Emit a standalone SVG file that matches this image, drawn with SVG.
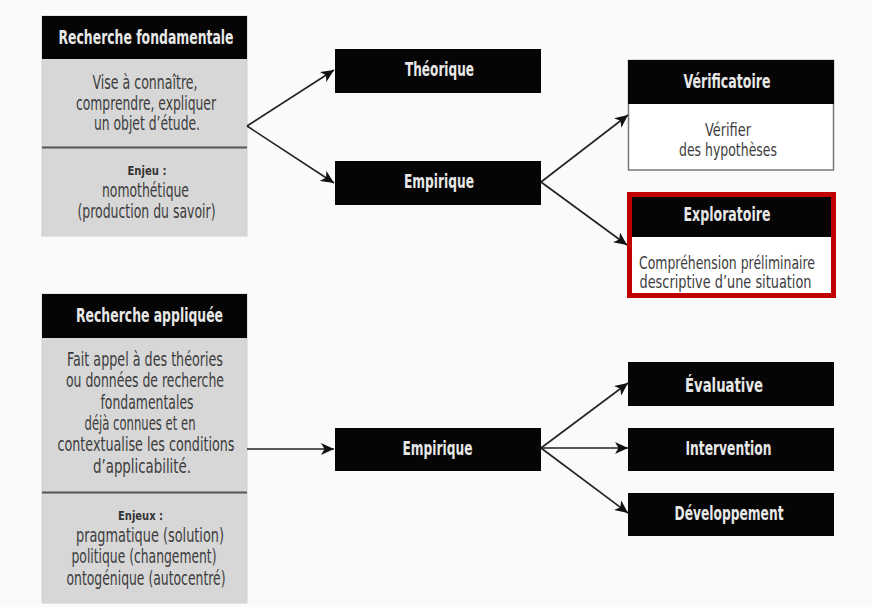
<svg xmlns="http://www.w3.org/2000/svg" width="872" height="607" viewBox="0 0 872 607">
<style>
  .bg{fill:#fafafa}
  .panel{fill:#d7d7d7;stroke:#cfcfcf;stroke-width:1}
  .hdr{fill:#050505}
  .div{stroke:#555;stroke-width:2}
  .wbox{fill:#ffffff;stroke:#7a7a7a;stroke-width:1.5}
  .red{fill:#ffffff;stroke:#c00000;stroke-width:5}
  text{font-family:"DejaVu Sans Condensed","DejaVu Sans","Liberation Sans",sans-serif;text-anchor:middle}
  .ht{font-size:20px;font-weight:bold;fill:#e8e8e8}
  .bt{font-size:19px;fill:#3c3c3c}
  .bs{font-size:17px;fill:#3c3c3c}
  .st{font-size:13px;font-weight:bold;fill:#333}
  .conn{fill:none;stroke:#222;stroke-width:1.6}
</style>
<defs>
  <marker id="arr" markerUnits="userSpaceOnUse" markerWidth="14" markerHeight="12" refX="13" refY="6" orient="auto">
    <path d="M0,0 L13,6 L0,12 L3.5,6 z" fill="#111"/>
  </marker>
</defs>
<rect class="bg" x="0" y="0" width="872" height="607"/>

<g id="fondamentale">
  <rect class="panel" x="42" y="16" width="205" height="220"/>
  <rect class="hdr" x="42" y="16" width="205" height="43"/>
  <text class="ht" x="146" y="44" textLength="175" lengthAdjust="spacingAndGlyphs">Recherche fondamentale</text>
  <text class="bt" x="145" y="89" textLength="105" lengthAdjust="spacingAndGlyphs">Vise à connaître,</text>
  <text class="bt" x="146" y="109.5" textLength="140" lengthAdjust="spacingAndGlyphs">comprendre, expliquer</text>
  <text class="bt" x="147" y="130" textLength="106" lengthAdjust="spacingAndGlyphs">un objet d’étude.</text>
  <line class="div" x1="42" y1="147.5" x2="247" y2="147.5"/>
  <text class="st" x="147" y="174.5" textLength="39" lengthAdjust="spacingAndGlyphs">Enjeu :</text>
  <text class="bt" x="145.5" y="196.5" textLength="87" lengthAdjust="spacingAndGlyphs">nomothétique</text>
  <text class="bt" x="146.5" y="218" textLength="138" lengthAdjust="spacingAndGlyphs">(production du savoir)</text>
</g>

<g id="appliquee">
  <rect class="panel" x="42" y="294" width="205" height="309"/>
  <rect class="hdr" x="42" y="294" width="205" height="44"/>
  <text class="ht" x="149.5" y="322" textLength="147" lengthAdjust="spacingAndGlyphs">Recherche appliquée</text>
  <text class="bt" x="145" y="366" textLength="156" lengthAdjust="spacingAndGlyphs">Fait appel à des théories</text>
  <text class="bt" x="145" y="387" textLength="158" lengthAdjust="spacingAndGlyphs">ou données de recherche</text>
  <text class="bt" x="147" y="408.5" textLength="93" lengthAdjust="spacingAndGlyphs">fondamentales</text>
  <text class="bt" x="140" y="429.5" textLength="111" lengthAdjust="spacingAndGlyphs">déjà connues et en</text>
  <text class="bt" x="146" y="451" textLength="177" lengthAdjust="spacingAndGlyphs">contextualise les conditions</text>
  <text class="bt" x="142" y="472.5" textLength="98" lengthAdjust="spacingAndGlyphs">d’applicabilité.</text>
  <line class="div" x1="42" y1="492.5" x2="247" y2="492.5"/>
  <text class="st" x="140.5" y="520" textLength="45" lengthAdjust="spacingAndGlyphs">Enjeux :</text>
  <text class="bt" x="150" y="541.5" textLength="148" lengthAdjust="spacingAndGlyphs">pragmatique (solution)</text>
  <text class="bt" x="144" y="563" textLength="145" lengthAdjust="spacingAndGlyphs">politique (changement)</text>
  <text class="bt" x="146" y="585" textLength="159" lengthAdjust="spacingAndGlyphs">ontogénique (autocentré)</text>
</g>

<g id="theorique">
  <rect class="hdr" x="335" y="49" width="206" height="44"/>
  <text class="ht" x="439.5" y="76" textLength="69" lengthAdjust="spacingAndGlyphs">Théorique</text>
</g>

<g id="empirique1">
  <rect class="hdr" x="335" y="161" width="206" height="44"/>
  <text class="ht" x="439" y="187.5" textLength="70" lengthAdjust="spacingAndGlyphs">Empirique</text>
</g>

<g id="verificatoire">
  <rect class="wbox" x="628.5" y="60.5" width="205" height="109.5"/>
  <rect class="hdr" x="628" y="60" width="206" height="44"/>
  <text class="ht" x="727" y="87.5" textLength="87" lengthAdjust="spacingAndGlyphs">Vérificatoire</text>
  <text class="bs" x="728" y="136" textLength="46" lengthAdjust="spacingAndGlyphs">Vérifier</text>
  <text class="bs" x="728" y="155.5" textLength="98" lengthAdjust="spacingAndGlyphs">des hypothèses</text>
</g>

<g id="exploratoire">
  <rect class="red" x="629.5" y="194.5" width="204" height="101"/>
  <rect class="hdr" x="632" y="197" width="199" height="40"/>
  <text class="ht" x="727" y="221" textLength="87" lengthAdjust="spacingAndGlyphs">Exploratoire</text>
  <text class="bs" x="727" y="268.5" textLength="176" lengthAdjust="spacingAndGlyphs">Compréhension préliminaire</text>
  <text class="bs" x="725.5" y="287.5" textLength="172" lengthAdjust="spacingAndGlyphs">descriptive d’une situation</text>
</g>

<g id="empirique2">
  <rect class="hdr" x="335" y="428" width="206" height="43"/>
  <text class="ht" x="437.5" y="454.5" textLength="70" lengthAdjust="spacingAndGlyphs">Empirique</text>
</g>

<g id="evaluative">
  <rect class="hdr" x="628" y="362" width="206" height="44"/>
  <text class="ht" x="724" y="392" textLength="78" lengthAdjust="spacingAndGlyphs">Évaluative</text>
</g>

<g id="intervention">
  <rect class="hdr" x="628" y="428" width="206" height="43"/>
  <text class="ht" x="728.5" y="455" textLength="86" lengthAdjust="spacingAndGlyphs">Intervention</text>
</g>

<g id="developpement">
  <rect class="hdr" x="628" y="493" width="206" height="43"/>
  <text class="ht" x="729" y="519.5" textLength="109" lengthAdjust="spacingAndGlyphs">Développement</text>
</g>

<g id="connectors">
  <line class="conn" x1="247" y1="126" x2="334" y2="70" marker-end="url(#arr)"/>
  <line class="conn" x1="247" y1="126" x2="334" y2="183" marker-end="url(#arr)"/>
  <line class="conn" x1="541" y1="182" x2="628" y2="115" marker-end="url(#arr)"/>
  <line class="conn" x1="541" y1="182" x2="627" y2="245" marker-end="url(#arr)"/>
  <line class="conn" x1="247" y1="449" x2="334" y2="449" marker-end="url(#arr)"/>
  <line class="conn" x1="541" y1="448" x2="628" y2="383" marker-end="url(#arr)"/>
  <line class="conn" x1="541" y1="448" x2="628" y2="448" marker-end="url(#arr)"/>
  <line class="conn" x1="541" y1="448" x2="628" y2="513" marker-end="url(#arr)"/>
</g>
</svg>
